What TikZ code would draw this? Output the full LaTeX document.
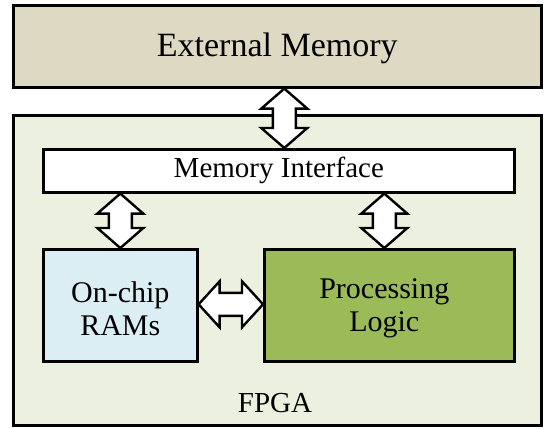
\documentclass[tikz,border=0pt]{standalone}
\usepackage{fontspec}
\setmainfont{Liberation Serif}
\usetikzlibrary{calc}
\definecolor{extfill}{HTML}{DDD9C3}
\definecolor{fpgafill}{HTML}{EBF1DE}
\definecolor{ramfill}{HTML}{DBEEF4}
\definecolor{logicfill}{HTML}{9BBB59}
\tikzset{
  block/.style={draw=black, line width=2.6pt, rectangle, inner sep=0pt, anchor=north west},
  fat/.style={draw=black, fill=white, line width=2.4pt, line join=miter},
  lbl/.style={align=center, font=\fontsize{30}{33}\selectfont},
}
% y grows downwards in this picture
% vertical double arrow from #1 (top) to #2 (bottom)
\newcommand\vfat[2]{%
  \draw[fat] (#1) -- ++(23,20) -- ++(-11.5,0) -- ($(#2)+(11.5,-20)$) -- ++(11.5,0) -- (#2)
    -- ++(-23,-20) -- ++(11.5,0) -- ($(#1)+(-11.5,20)$) -- ++(-11.5,0) -- cycle;}
% horizontal double arrow from #1 (left) to #2 (right)
\newcommand\hfat[2]{%
  \draw[fat] (#1) -- ++(21,23) -- ++(0,-11.5) -- ($(#2)+(-21,11.5)$) -- ++(0,11.5) -- (#2)
    -- ++(-21,-23) -- ++(0,11.5) -- ($(#1)+(21,-11.5)$) -- ++(0,-11.5) -- cycle;}
\begin{document}
\begin{tikzpicture}[x=1pt,y=-1pt]
\useasboundingbox (0,0) rectangle (551,428);
% outer boxes
\node[block, fill=extfill, minimum width=528, minimum height=82] (ext) at (12,4) {};
\node[font=\fontsize{34}{38}\selectfont] (extlbl) at ($(ext.center)+(0,2)$) {External Memory};
\node[block, fill=fpgafill, minimum width=528, minimum height=310] (fpga) at (12,114) {};
\node[font=\fontsize{29}{32}\selectfont] (fpgalbl) at (275,403) {FPGA};
% inner blocks
\node[block, fill=white, minimum width=471, minimum height=43, font=\fontsize{29}{32}\selectfont] (mi) at (42,148) {Memory Interface};
\node[block, fill=ramfill, minimum width=154, minimum height=112] (ram) at (42,248) {};
\node[lbl] (ramlbl) at ($(ram.center)+(0,3)$) {On-chip\\RAMs};
\node[block, fill=logicfill, minimum width=250, minimum height=112] (logic) at (263,248) {};
\node[lbl] (logiclbl) at ($(logic.center)+(-5,3)$) {Processing\\Logic};
% connection points on block borders
\coordinate (a1) at ($(ext.south)+(7,0)$);
\coordinate (a2) at (a1 |- mi.north);
\coordinate (b1) at (ram.north |- mi.south);
\coordinate (c1) at ($(logic.north)+(-5,0)$);
\coordinate (c2) at (c1 |- mi.south);
\coordinate (d1) at ($(ram.east)+(0,-1)$);
\coordinate (d2) at (d1 -| logic.west);
% double arrows
\vfat{a1}{a2}
\vfat{b1}{ram.north}
\vfat{c2}{c1}
\hfat{d1}{d2}
\end{tikzpicture}
\end{document}
